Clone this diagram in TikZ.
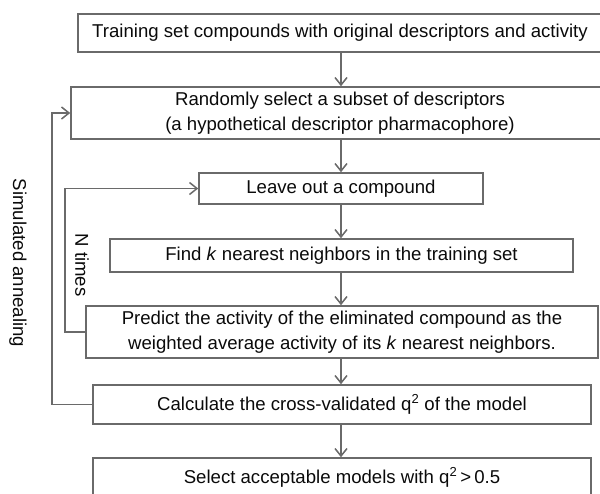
\documentclass[tikz,border=0pt]{standalone}
\usepackage{fontspec}
\setmainfont{Liberation Sans}
\usetikzlibrary{arrows.meta}
\definecolor{linegray}{HTML}{6A6A6A}
\definecolor{txt}{HTML}{0A0A0A}
\begin{document}
\begin{tikzpicture}[x=1pt,y=-1pt,
  box/.style={draw=linegray, line width=1.6pt, inner sep=0pt, align=center, text=txt,
    font=\fontsize{18.6}{25}\selectfont},
  arr/.style={draw=linegray, line width=1.5pt, -{Straight Barb[length=7.5pt,width=12pt,line width=1.5pt]}},
  lbl/.style={text=txt, font=\fontsize{18.6}{25}\selectfont, rotate=-90, inner sep=0pt}]
\useasboundingbox (0,0) rectangle (600,493);
\clip (0,0) rectangle (600,493);
\node[box, minimum width=524pt, minimum height=38pt] (b1) at (340,33)
  {Training set compounds with original descriptors and activity};
\node[box, minimum width=538pt, minimum height=52pt] (b2) at (340,113)
  {Randomly select a subset of descriptors\\(a hypothetical descriptor pharmacophore)};
\node[box, minimum width=284pt, minimum height=31pt] (b3) at (341,188.5)
  {Leave out a compound};
\node[box, minimum width=463pt, minimum height=33pt] (b4) at (341.5,255.5)
  {Find \textit{k} nearest neighbors in the training set};
\node[box, minimum width=512pt, minimum height=52pt] (b5) at (342,332)
  {Predict the activity of the eliminated compound as the\\weighted average activity of its \textit{k} nearest neighbors.};
\node[box, minimum width=498pt, minimum height=39pt] (b6) at (342,404.5)
  {Calculate the cross-validated q\textsuperscript{2} of the model};
\node[box, minimum width=498pt, minimum height=39pt] (b7) at (342,477.5)
  {Select acceptable models with q\textsuperscript{2}\,>\,0.5};
\node[lbl] (sa) at (18,263) {Simulated annealing};
\node[lbl] (nt) at (82,265) {N times};
\coordinate (ax) at (341,0);
\draw[arr] (ax |- b1.south) -- (ax |- b2.north);
\draw[arr] (ax |- b2.south) -- (ax |- b3.north);
\draw[arr] (ax |- b3.south) -- (ax |- b4.north);
\draw[arr] (ax |- b4.south) -- (ax |- b5.north);
\draw[arr] (ax |- b5.south) -- (ax |- b6.north);
\draw[arr] (ax |- b6.south) -- (ax |- b7.north);
\coordinate (ox) at (52,0);
\coordinate (ix) at (65,0);
\draw[arr] (b6.west) -- (b6.west -| ox) |- (b2.west);
\draw[arr] (b5.west) -- (b5.west -| ix) |- (b3.west);
\end{tikzpicture}
\end{document}
